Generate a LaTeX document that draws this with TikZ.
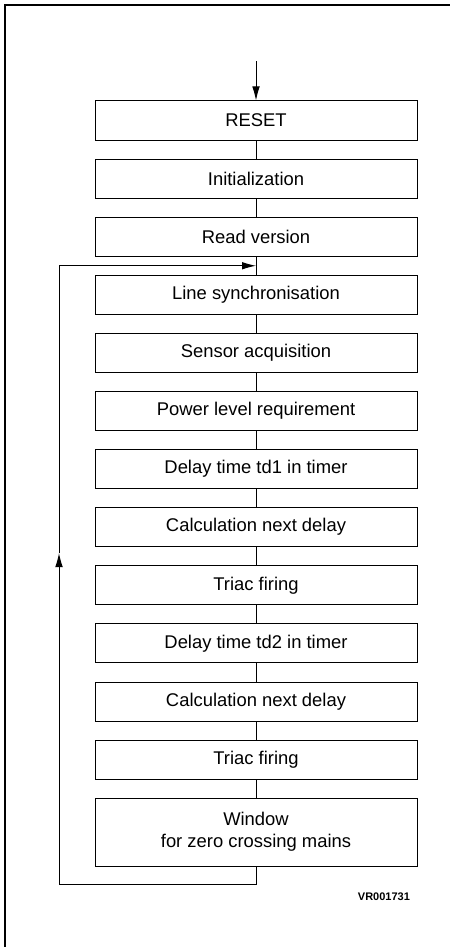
\documentclass[tikz,border=0pt]{standalone}
\usepackage{fontspec}
\setmainfont{Liberation Sans}
\usetikzlibrary{positioning, arrows.meta}

\begin{document}
\begin{tikzpicture}[
      node distance=9.05pt,
      stepbox/.style={
        draw,
        rectangle,
        align=center,
        inner sep=0pt,
        minimum width=161pt,
        minimum height=19.5pt,
        line width=0.5pt,
        font=\fontsize{9.2}{11}\selectfont
      },
      link/.style={line width=0.5pt},
      arrow/.style={-{Latex[length=7pt,width=3.8pt]}, line width=0.5pt}
    ]
    \useasboundingbox (0,0) rectangle (225pt,-473.5pt);
    % Frame (top and left edges)
    \draw [line width=0.6pt] (2.5pt,-473.5pt) -- (2.5pt,-2.5pt) -- (225pt,-2.5pt);

    % Place nodes
    \node [stepbox] (reset) at (128pt,-60.25pt) {RESET};
    \node [stepbox, below=of reset] (init) {Initialization};
    \node [stepbox, below=of init] (version) {Read version};
    \node [stepbox, below=of version] (sync) {Line synchronisation};
    \node [stepbox, below=of sync] (sensor) {Sensor acquisition};
    \node [stepbox, below=of sensor] (power) {Power level requirement};
    \node [stepbox, below=of power] (tdone) {Delay time td1 in timer};
    \node [stepbox, below=of tdone] (calcone) {Calculation next delay};
    \node [stepbox, below=of calcone] (fireone) {Triac firing};
    \node [stepbox, below=of fireone] (tdtwo) {Delay time td2 in timer};
    \node [stepbox, below=of tdtwo] (calctwo) {Calculation next delay};
    \node [stepbox, below=of calctwo] (firetwo) {Triac firing};
    \node [stepbox, below=of firetwo, minimum height=34pt] (window) {Window\\for zero crossing mains};

    \node [anchor=east, font=\fontsize{5.5}{6}\selectfont\bfseries] (code) at (208.5pt,-448.5pt) {VR001731};

    % Helper points for the loop
    \coordinate [above=19.5pt of reset.north] (start);
    \path (version.south) -- (sync.north) coordinate[midway] (join);
    \coordinate [below=9pt of window.south] (turn);
    \coordinate (lft) at (29.5pt,-276.5pt);

    % Draw direct paths
    \draw [arrow] (start) -- (reset);
    \draw [link] (reset) -- (init);
    \draw [link] (init) -- (version);
    \draw [link] (version) -- (sync);
    \draw [link] (sync) -- (sensor);
    \draw [link] (sensor) -- (power);
    \draw [link] (power) -- (tdone);
    \draw [link] (tdone) -- (calcone);
    \draw [link] (calcone) -- (fireone);
    \draw [link] (fireone) -- (tdtwo);
    \draw [link] (tdtwo) -- (calctwo);
    \draw [link] (calctwo) -- (firetwo);
    \draw [link] (firetwo) -- (window);

    % Feedback loop back to line synchronisation
    \draw [arrow] (window.south) -- (turn) -| (lft);
    \draw [arrow] (lft) |- (join);
  \end{tikzpicture}
\end{document}
